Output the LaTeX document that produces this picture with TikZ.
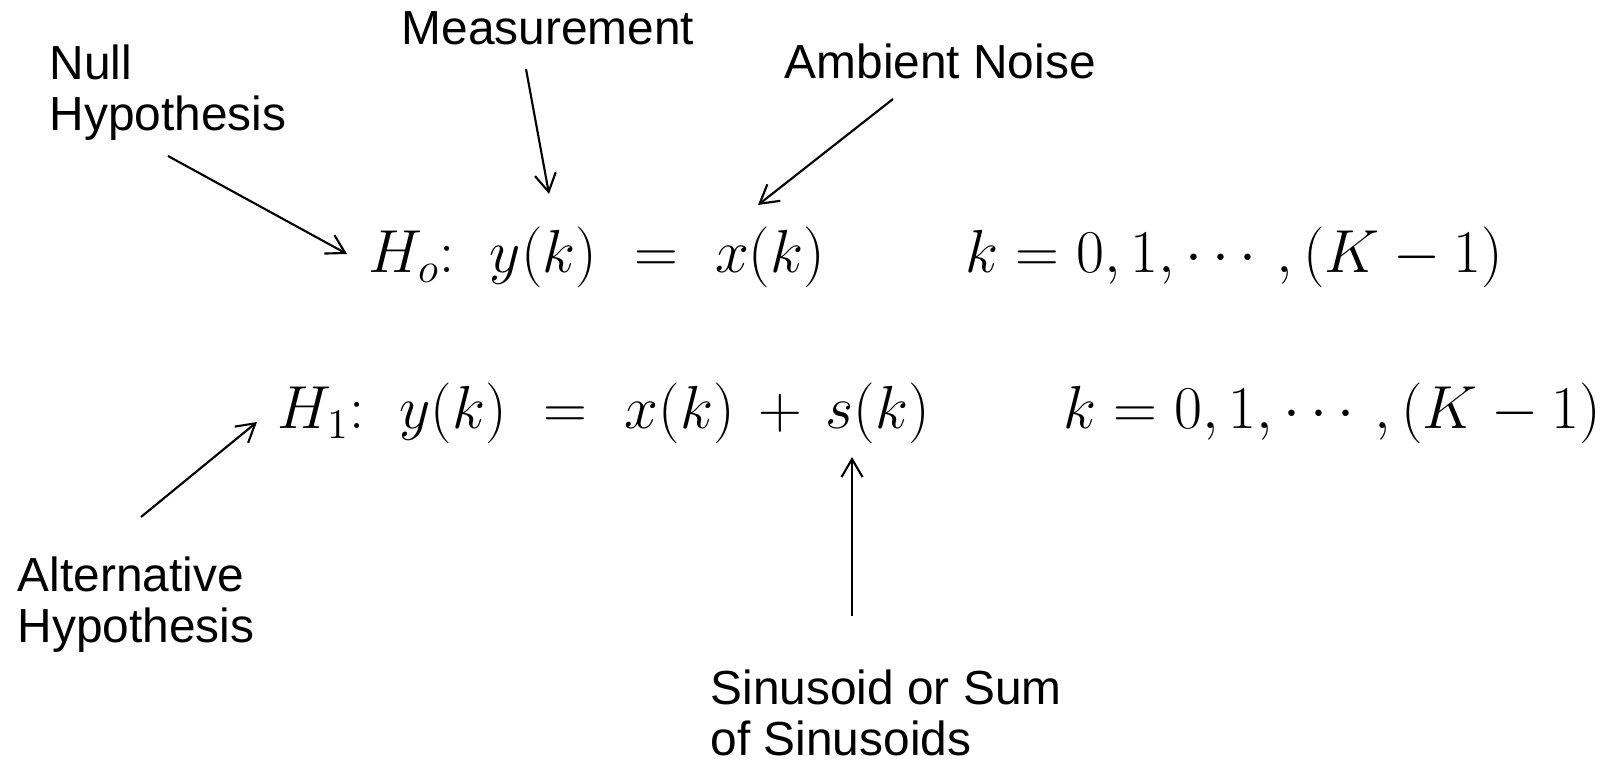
\documentclass[tikz,border=0pt]{standalone}
\usepackage{amsmath,amssymb}
\usepackage{fontspec}
\newfontfamily\lblfont{Liberation Sans}
\usetikzlibrary{positioning,arrows.meta}
\tikzset{
  ptr/.style={-{Straight Barb[length=1.8mm,width=2.1mm]},line width=0.6pt},
  lbl/.style={font=\lblfont\fontsize{13.6}{14.6}\selectfont,align=left,inner sep=0pt,anchor=base west},
  eqn/.style={font=\fontsize{17.28}{21}\selectfont,inner sep=0pt,anchor=base west},
}
\newcommand{\wideq}{\mkern6mu=\mkern6mu}
\newcommand{\wideplus}{\mkern3mu+\mkern3mu}
\begin{document}
\begin{tikzpicture}[x=0.01cm,y=-0.01cm]
  \useasboundingbox (0,0) rectangle (1601,762);
  % hypotheses
  \node[eqn] (hzero) at (368,273) {$H_o{:}\hspace{3.5mm}y(k)\wideq x(k)$};
  \node[eqn] (kzero) at (965,273) {$k=0,1,\cdots,(K-1)$};
  \node[eqn] (hone) at (277,429) {$H_1{:}\hspace{3.5mm}y(k)\wideq x(k)\wideplus s(k)$};
  \node[eqn] (kone) at (1063,429) {$k=0,1,\cdots,(K-1)$};
  % labels (base = last line)
  \node[lbl] (nullhyp) at (49,131) {Null\\Hypothesis};
  \node[lbl] (meas) at (401,45) {Measurement};
  \node[lbl] (noise) at (784,79) {Ambient Noise};
  \node[lbl] (althyp) at (17,643) {Alternative\\Hypothesis};
  \node[lbl] (sinus) at (710,756) {Sinusoid or Sum\\of Sinusoids};
  % arrow ends
  \coordinate (nullTail) at (168,156);  \coordinate (nullTip) at (347,254);
  \coordinate (measTail) at (526,69);   \coordinate (measTip) at (549,194);
  \coordinate (noiseTail) at (893,99);  \coordinate (noiseTip) at (758,205);
  \coordinate (altTail) at (141,517);   \coordinate (altTip) at (257,422);
  \coordinate (sinTail) at (852,616);   \coordinate (sinTip) at (852,457);
  \draw[ptr] (nullTail) -- (nullTip);
  \draw[ptr] (measTail) -- (measTip);
  \draw[ptr] (noiseTail) -- (noiseTip);
  \draw[ptr] (altTail) -- (altTip);
  \draw[ptr] (sinTail) -- (sinTip);
\end{tikzpicture}
\end{document}
